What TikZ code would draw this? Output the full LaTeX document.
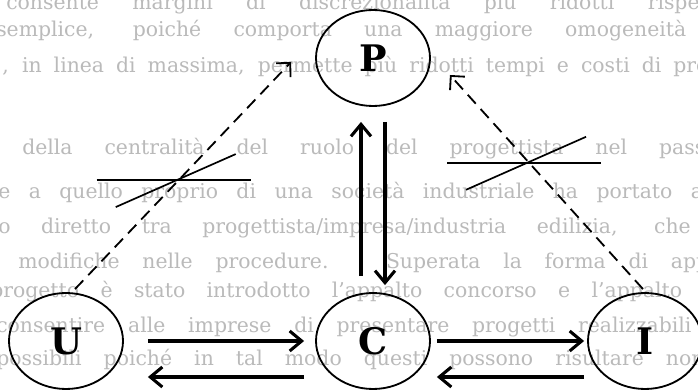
\documentclass[tikz,border=0pt]{standalone}
\usepackage{fontspec}
\newfontfamily\lettfont{DejaVu Serif}
\newfontfamily\bgfont{DejaVu Serif}
\usetikzlibrary{arrows.meta,calc,shapes.geometric}
\newdimen\pxu \pxu=0.025cm
\tikzset{ent/.style={draw,ellipse,line width=1.3pt,minimum width=114\pxu,minimum height=96\pxu,inner sep=0pt,font=\lettfont\bfseries\fontsize{26}{26}\selectfont},
flow/.style={line width=2.2pt,-{Straight Barb[length=3mm,width=5mm]}},
link/.style={line width=1.3pt,dash pattern=on 3mm off 1.8mm,-{Straight Barb[length=2.5mm,width=5mm]}},
tick/.style={line width=1.2pt},
bgline/.style={anchor=base west,inner sep=0pt,text=black!27,font=\bgfont\fontsize{14.5}{14.5}\selectfont}}

\begin{document}
\begin{tikzpicture}[x=0.025cm,y=-0.025cm]
\clip (0,0) rectangle (698,392);
\fill[white] (0,0) rectangle (698,392);
% text of the page showing through
\foreach \y/\x/\w/\txt [count=\i] in {10/6/722/{consente margini di discrezionalità più ridotti rispetto},37/-4/690/{semplice, poiché comporta una maggiore omogeneità},73/2/760/{, in linea di massima, permette più ridotti tempi e costi di progetto},155/22/740/{della centralità del ruolo del progettista nel passaggio},199/-2/730/{e a quello proprio di una società industriale ha portato alla},234/-2/740/{o diretto tra progettista/impresa/industria edilizia, che si},269/18/730/{modifiche nelle procedure. Superata la forma di appalto},298/-10/750/{progetto è stato introdotto l’appalto concorso e l’appalto con},333/-4/730/{consentire alle imprese di presentare progetti realizzabili e},366/-4/740/{possibili poiché in tal modo questi possono risultare non r}}
{\node[bgline] (t\i) at (\x,\y) {\makebox[\w\pxu][s]{\txt}};}
% the four parties
\node[ent] (P) at (373,58) {P};
\node[ent] (U) at (66,341) {U};
\node[ent] (C) at (373,341) {C};
\node[ent] (I) at (645,341) {I};
% solid exchanges
\foreach \a/\b/\sa/\sb in {U/C/.6cm/.275cm,C/I/.15cm/.075cm}{
\draw[flow,shorten <=\sa,shorten >=\sb] (\a.east) -- (\b.west);
\draw[flow,shorten <=\sb,shorten >=\sa] ([yshift=-.9cm]\b.west) -- ([yshift=-.9cm]\a.east);}
\draw[flow,shorten <=.4cm,shorten >=.375cm] ([xshift=-.3cm]C.north) -- ([xshift=-.3cm]P.south);
\draw[flow,shorten <=.375cm,shorten >=.175cm] ([xshift=.3cm]P.south) -- ([xshift=.3cm]C.north);
% broken links
\draw[link] ($(U.north)+(9,-3)$) -- coordinate[pos=.48] (xu) ($(P.west)+(-24,4)$);
\draw[link] ($(I.north)+(-2,-3)$) -- coordinate[pos=.59] (xi) ($(P.east)+(19,17)$);
\foreach \c in {xu,xi}{\draw[tick] ($(\c)+(-82,0)$) -- ($(\c)+(72,0)$);
\draw[tick] ($(\c)+(-63,27)$) -- ($(\c)+(57,-26)$);}
\end{tikzpicture}
\end{document}
